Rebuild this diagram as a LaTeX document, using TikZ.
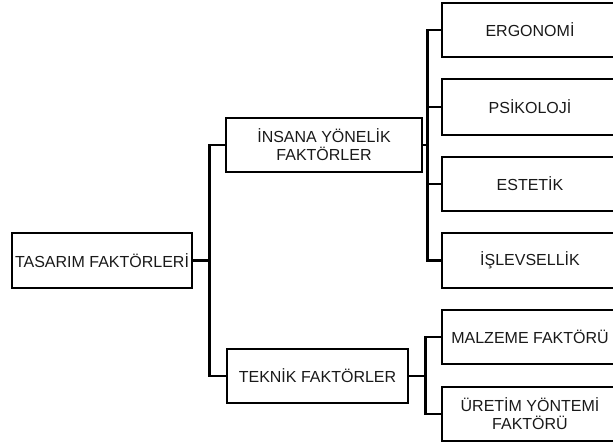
\documentclass[tikz,border=0pt]{standalone}
\usepackage{fontspec}
\setmainfont{Liberation Sans}
\begin{document}
\begin{tikzpicture}[x=1pt,y=-1pt,
  box/.style={draw=black,line width=2.6pt,rectangle,inner sep=0pt,align=center,
    font=\fontsize{16}{18}\selectfont,text=black!90},
  conn/.style={draw=black,line width=2.6pt}]
\clip (0,0) rectangle (613,445);
\useasboundingbox (0,0) rectangle (613,445);
\node[box,minimum width=180pt,minimum height=55pt] (tas) at (102,260.5) {TASARIM FAKTÖRLERİ};
\node[box,minimum width=196pt,minimum height=54pt] (ins) at (324,145) {İNSANA YÖNELİK\\FAKTÖRLER};
\node[box,minimum width=181pt,minimum height=54pt] (tek) at (317.5,376) {TEKNİK FAKTÖRLER};
\node[box,minimum width=176pt,minimum height=54pt] (erg) at (530,30) {ERGONOMİ};
\node[box,minimum width=176pt,minimum height=56pt] (psi) at (530,107) {PSİKOLOJİ};
\node[box,minimum width=176pt,minimum height=54pt] (est) at (530,184) {ESTETİK};
\node[box,minimum width=176pt,minimum height=55pt] (isl) at (530,260.5) {İŞLEVSELLİK};
\node[box,minimum width=176pt,minimum height=54pt] (mal) at (530,337) {MALZEME FAKTÖRÜ};
\node[box,minimum width=176pt,minimum height=54pt] (ure) at (530,414) {ÜRETİM YÖNTEMİ\\FAKTÖRÜ};
\draw[conn] (tas.east) -- ++(16,0) coordinate (j1);
\draw[conn] (j1) |- (ins.west);
\draw[conn] (j1) |- (tek.west);
\draw[conn] (ins.east) -- ++(4,0) coordinate (j2);
\draw[conn] (j2) |- (erg.west);
\draw[conn] (j2) |- (psi.west);
\draw[conn] (j2) |- (est.west);
\draw[conn] (j2) |- (isl.west);
\draw[conn] (tek.east) -- ++(16,0) coordinate (j3);
\draw[conn] (j3) |- (mal.west);
\draw[conn] (j3) |- (ure.west);
\end{tikzpicture}
\end{document}
